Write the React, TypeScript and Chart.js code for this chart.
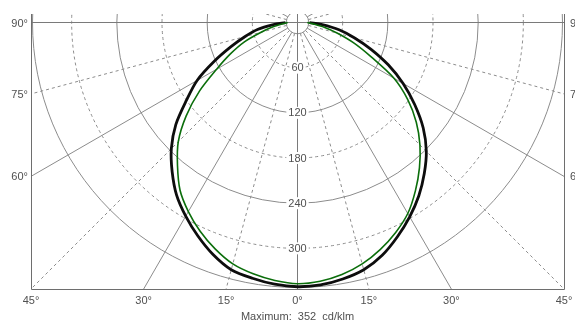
import React, { useEffect, useRef } from "react";
import { Chart, registerables } from "chart.js";

Chart.register(...registerables);

// Polar angles (degrees from nadir) and luminous intensity values (cd/klm)
const ANGLES = [0, 5, 10, 15, 20, 25, 30, 35, 40, 45, 50, 55, 60, 65, 70, 75, 80, 85, 90];
const BLACK_LEFT = [351, 349, 345, 340, 328, 313, 297, 280, 259, 237, 211, 180, 154, 122, 94, 72, 54, 32, 16];
const BLACK_RIGHT = [351, 350, 346, 340, 329, 314, 298, 281, 262, 242, 218, 190, 162, 133, 104, 78, 56, 33, 16];
const GREEN_LEFT = [347, 344, 339, 332, 320, 306, 290, 272, 248, 224, 193, 159, 124, 98, 75, 50, 33, 20, 13];
const GREEN_RIGHT = [347, 345, 340, 332, 321, 308, 293, 273, 252, 230, 206, 179, 148, 108, 80, 55, 36, 21, 13];

const RING_VALUES = [60, 120, 180, 240, 300];
const RING_DASHED = [true, false, true, false, true];
const MAX_VALUE = 352;
const INNER_RING = 15;
const RADIAL_STEP = 15;
const BOTTOM_ANGLES = [-45, -30, -15, 0, 15, 30, 45];
const SIDE_ANGLES = [90, 75, 60];
const MAX_TEXT = "Maximum:  352  cd/klm";

const X_MIN = -354;
const X_MAX = 354;
const Y_MIN = -354;
const Y_MAX = 11.3;

const FONT = "11px 'Liberation Sans', Arial, sans-serif";
const TEXT_COLOR = "#505050";
const GRID_COLOR = "#8c8c8c";

function toXY(v: number, deg: number) {
  const r = (deg * Math.PI) / 180;
  return { x: v * Math.sin(r), y: -v * Math.cos(r) };
}

function curve(left: number[], right: number[]) {
  const pts: { x: number; y: number }[] = [];
  for (let i = ANGLES.length - 1; i >= 0; i--) pts.push(toXY(left[i], -ANGLES[i]));
  for (let i = 1; i < ANGLES.length; i++) pts.push(toXY(right[i], ANGLES[i]));
  return pts;
}

const gridPlugin = {
  id: "polarGrid",
  beforeDatasetsDraw(chart: any) {
    const { ctx, chartArea: a, scales } = chart;
    const xs = scales.x;
    const ys = scales.y;
    const ox = xs.getPixelForValue(0);
    const oy = ys.getPixelForValue(0);
    const k = xs.getPixelForValue(1) - ox;
    ctx.save();
    ctx.beginPath();
    ctx.rect(a.left, a.top, a.right - a.left, a.bottom - a.top);
    ctx.clip();
    ctx.lineWidth = 1;
    ctx.strokeStyle = GRID_COLOR;

    // rings
    RING_VALUES.forEach((v, i) => {
      ctx.setLineDash(RING_DASHED[i] ? [3, 3] : []);
      ctx.beginPath();
      ctx.arc(ox, oy, v * k, 0, Math.PI * 2);
      ctx.stroke();
    });
    ctx.setLineDash([]);
    ctx.beginPath();
    ctx.arc(ox, oy, MAX_VALUE * k, 0, Math.PI * 2);
    ctx.stroke();
    ctx.beginPath();
    ctx.arc(ox, oy, INNER_RING * k, 0, Math.PI * 2);
    ctx.stroke();

    // radials
    for (let d = 0; d < 360; d += RADIAL_STEP) {
      const dashed = d % 30 !== 0;
      const through = d % 90 === 0;
      const rad = (d * Math.PI) / 180;
      const sx = Math.sin(rad);
      const sy = Math.cos(rad);
      const r0 = through ? 0 : INNER_RING * k;
      const r1 = 2000;
      ctx.setLineDash(dashed ? [3, 3] : []);
      ctx.strokeStyle = d % 90 === 0 ? "#7a7a7a" : GRID_COLOR;
      ctx.beginPath();
      ctx.moveTo(ox + sx * r0, oy + sy * r0);
      ctx.lineTo(ox + sx * r1, oy + sy * r1);
      ctx.stroke();
    }
    ctx.setLineDash([]);

    // ring labels
    ctx.font = FONT;
    ctx.textAlign = "center";
    ctx.textBaseline = "middle";
    RING_VALUES.forEach((v) => {
      const py = ys.getPixelForValue(-v);
      const t = String(v);
      const w = ctx.measureText(t).width;
      ctx.fillStyle = "#ffffff";
      ctx.fillRect(ox - w / 2 - 2, py - 6, w + 4, 12);
      ctx.fillStyle = TEXT_COLOR;
      ctx.fillText(t, ox, py + 0.5);
    });
    ctx.restore();
  },
  afterDraw(chart: any) {
    const { ctx, chartArea: a, scales } = chart;
    const xs = scales.x;
    const ys = scales.y;
    const ox = xs.getPixelForValue(0);
    ctx.save();
    ctx.strokeStyle = "#6e6e6e";
    ctx.lineWidth = 1;
    ctx.beginPath();
    ctx.moveTo(Math.round(a.left) + 0.5, a.top);
    ctx.lineTo(Math.round(a.left) + 0.5, Math.round(a.bottom) + 0.5);
    ctx.lineTo(Math.round(a.right) + 0.5, Math.round(a.bottom) + 0.5);
    ctx.lineTo(Math.round(a.right) + 0.5, a.top);
    ctx.stroke();

    ctx.font = FONT;
    ctx.fillStyle = TEXT_COLOR;
    ctx.textBaseline = "middle";
    // side labels
    SIDE_ANGLES.forEach((d) => {
      const rad = (d * Math.PI) / 180;
      const yv = (X_MIN * Math.cos(rad)) / Math.sin(rad);
      const py = ys.getPixelForValue(yv);
      ctx.textAlign = "right";
      ctx.fillText(d + "°", a.left - 3, py + 1);
      ctx.textAlign = "left";
      ctx.fillText(d + "°", a.right + 6, py + 1);
    });
    // bottom labels
    ctx.textAlign = "center";
    BOTTOM_ANGLES.forEach((d) => {
      const rad = (d * Math.PI) / 180;
      const xv = -Y_MIN * Math.tan(rad);
      const px = xs.getPixelForValue(xv);
      ctx.fillText(Math.abs(d) + "°", px, a.bottom + 12);
    });
    ctx.fillText(MAX_TEXT, ox, a.bottom + 28);
    ctx.restore();
  },
};

export default function App() {
  const ref = useRef<HTMLCanvasElement | null>(null);
  useEffect(() => {
    if (!ref.current) return;
    const chart = new Chart(ref.current, {
      type: "scatter",
      data: {
        datasets: [
          {
            data: curve(GREEN_LEFT, GREEN_RIGHT),
            showLine: true,
            borderColor: "#0b6e0b",
            borderWidth: 1.6,
            pointRadius: 0,
            tension: 0.3,
          },
          {
            data: curve(BLACK_LEFT, BLACK_RIGHT),
            showLine: true,
            borderColor: "#0d0d0d",
            borderWidth: 2.8,
            pointRadius: 0,
            tension: 0.3,
          },
        ],
      },
      options: {
        animation: false,
        responsive: false,
        maintainAspectRatio: false,
        layout: { padding: { left: 31, top: 14, right: 11, bottom: 37 } },
        plugins: { legend: { display: false }, tooltip: { enabled: false } },
        scales: {
          x: { type: "linear", display: false, min: X_MIN, max: X_MAX },
          y: { type: "linear", display: false, min: Y_MIN, max: Y_MAX },
        },
      },
      plugins: [gridPlugin],
    });
    return () => chart.destroy();
  }, []);
  return (
    <div style={{ position: "fixed", left: 0, top: 0, width: 575, height: 326, background: "#fff" }}>
      <canvas ref={ref} width={575} height={326} />
    </div>
  );
}
